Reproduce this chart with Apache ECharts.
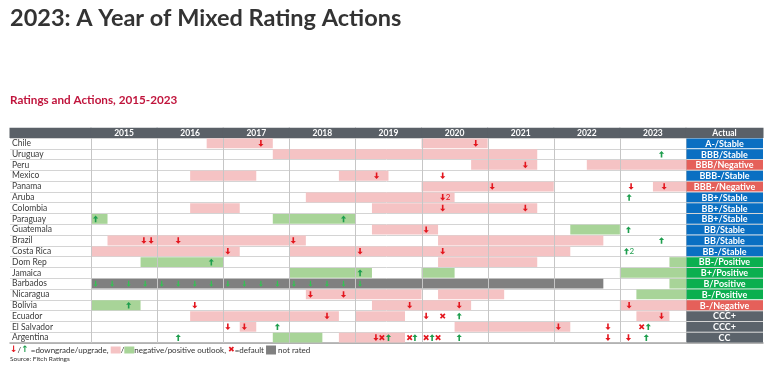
<!DOCTYPE html>
<html><head><meta charset="utf-8">
<script src="https://cdn.jsdelivr.net/npm/echarts@6/dist/echarts.min.js"></script>
<style>html,body{margin:0;padding:0;background:#fff}#c{width:769px;height:366px}</style>
</head><body><div id="c"></div>
<script>
// ---------------- DATA ----------------
const countries = ['Chile','Uruguay','Peru','Mexico','Panama','Aruba','Colombia','Paraguay','Guatemala','Brazil','Costa Rica','Dom Rep','Jamaica','Barbados','Nicaragua','Bolivia','Ecuador','El Salvador','Argentina'];
const yearLabels = ['2015','2016','2017','2018','2019','2020','2021','2022','2023'];
const yearTicks = [2015,2016,2017,2018,2019,2020,2021,2022,2023,2024];
const actualRatings = ['A-/Stable','BBB/Stable','BBB/Negative','BBB-/Stable','BBB-/Negative','BB+/Stable','BB+/Stable','BB+/Stable','BB/Stable','BB/Stable','BB-/Stable','BB-/Positive','B+/Positive','B/Positive','B-/Positive','B-/Negative','CCC+','CCC+','CC'];
const actualOutlook = ['Stable','Stable','Negative','Stable','Negative','Stable','Stable','Stable','Stable','Stable','Stable','Positive','Positive','Positive','Positive','Negative','None','None','None'];
// [country, start, end]
const negativeOutlook = [
  ['Chile',2016.75,2017.75],['Chile',2020.0,2021.0],
  ['Uruguay',2017.75,2021.75],
  ['Peru',2020.75,2021.75],['Peru',2022.5,2024],
  ['Mexico',2016.5,2017.5],['Mexico',2018.75,2019.5],
  ['Panama',2020.0,2022.0],['Panama',2023.5,2024],
  ['Aruba',2018.25,2020.5],
  ['Colombia',2016.5,2017.25],['Colombia',2019.25,2021.75],
  ['Guatemala',2019.25,2020.25],
  ['Brazil',2015.25,2018.25],['Brazil',2020.25,2022.75],
  ['Costa Rica',2015.0,2017.25],['Costa Rica',2018.0,2022.25],
  ['Dom Rep',2020.25,2021.75],
  ['Nicaragua',2018.25,2020.0],['Nicaragua',2020.25,2021.25],
  ['Bolivia',2019.25,2020.75],['Bolivia',2023.0,2024],
  ['Ecuador',2016.5,2018.75],['Ecuador',2019.0,2019.75],['Ecuador',2023.25,2023.75],
  ['El Salvador',2017.25,2017.5],['El Salvador',2020.5,2022.25],
  ['Argentina',2018.75,2019.75]
];
const positiveOutlook = [
  ['Paraguay',2015.0,2015.25],['Paraguay',2017.75,2019.0],
  ['Guatemala',2022.25,2023.0],
  ['Dom Rep',2015.75,2017.0],['Dom Rep',2023.75,2024],
  ['Jamaica',2018.0,2019.25],['Jamaica',2020.0,2020.5],['Jamaica',2023.0,2024],
  ['Barbados',2023.75,2024],
  ['Nicaragua',2023.25,2024],
  ['Bolivia',2015.0,2015.75],
  ['Argentina',2017.75,2018.5]
];
const notRated = [['Barbados',2015.0,2022.75]];
// [country, date, notches]
const downgrades = [
  ['Chile',2017.57,1],['Chile',2020.82,1],
  ['Peru',2021.57,1],
  ['Mexico',2019.32,1],['Mexico',2020.32,1],
  ['Panama',2021.07,1],['Panama',2023.17,1],['Panama',2023.67,1],
  ['Aruba',2020.32,2],
  ['Colombia',2020.32,1],['Colombia',2021.57,1],
  ['Guatemala',2020.07,1],
  ['Brazil',2015.8,1],['Brazil',2015.91,1],['Brazil',2016.32,1],['Brazil',2018.06,1],
  ['Costa Rica',2017.07,1],['Costa Rica',2019.07,1],['Costa Rica',2020.32,1],
  ['Nicaragua',2018.32,1],['Nicaragua',2018.82,1],
  ['Bolivia',2016.57,1],['Bolivia',2019.82,1],['Bolivia',2020.57,1],['Bolivia',2023.14,1],
  ['Ecuador',2018.57,1],['Ecuador',2020.07,1],['Ecuador',2023.63,1],
  ['El Salvador',2017.07,1],['El Salvador',2017.32,1],['El Salvador',2022.07,1],['El Salvador',2022.82,1],
  ['Argentina',2019.31,1],['Argentina',2022.82,1],['Argentina',2023.13,1]
];
const upgrades = [
  ['Uruguay',2023.63,1],
  ['Aruba',2023.14,1],
  ['Paraguay',2015.07,1],['Paraguay',2018.82,1],
  ['Guatemala',2023.13,1],
  ['Brazil',2023.63,1],
  ['Costa Rica',2023.1,2],
  ['Dom Rep',2016.82,1],
  ['Jamaica',2019.07,1],
  ['Bolivia',2015.57,1],
  ['Ecuador',2020.57,1],
  ['El Salvador',2017.82,1],['El Salvador',2023.43,1],
  ['Argentina',2016.32,1],['Argentina',2019.5,1],['Argentina',2019.9,1],['Argentina',2020.16,1],['Argentina',2020.57,1],['Argentina',2023.4,1]
];
const defaults = [
  ['Ecuador',2020.32],
  ['El Salvador',2023.33],
  ['Argentina',2019.4],['Argentina',2019.82],['Argentina',2020.07],['Argentina',2020.25]
];
const notRatedMarks = [
  ['Barbados',2015.07],['Barbados',2015.32],['Barbados',2015.57],['Barbados',2015.82],
  ['Barbados',2016.07],['Barbados',2016.32],['Barbados',2016.57],['Barbados',2016.82],
  ['Barbados',2017.07],['Barbados',2017.32],['Barbados',2017.57],['Barbados',2017.82],
  ['Barbados',2018.07],['Barbados',2018.32],['Barbados',2018.57],['Barbados',2018.82],
  ['Barbados',2019.07]
];

// ---------------- STYLE ----------------
const FONT = 'Lato, "Noto Sans", sans-serif';
const XMIN = 2013.775, XMAX = 2025.165;
const C = {
  neg: '#F5C3C4', pos: '#A8D498', nr: '#808080',
  red: '#E3161E', green: '#1E9E4E', nrArrow: '#33C253',
  header: '#5A6067', grid: '#d4d4d4', yearLine: '#c6c6c6'
};
const outlookColor = { Stable: '#0A6FC2', Negative: '#E5605A', Positive: '#0BAF4F', None: '#5B636B' };
const rowIdx = n => countries.indexOf(n);

const chart = echarts.init(document.getElementById('c'));

function barSeries(rows, color) {
  return {
    type: 'custom', z: 2, silent: true,
    data: rows.map(r => [rowIdx(r[0]), r[1], r[2]]),
    encode: { x: [1, 2], y: 0 },
    renderItem: (p, api) => {
      const a = api.coord([api.value(1), api.value(0)]);
      const b = api.coord([api.value(2), api.value(0)]);
      const h = api.size([0, 1])[1];
      return { type: 'rect', shape: { x: a[0], y: a[1] - h / 2 + 0.5, width: b[0] - a[0], height: h - 1 }, style: { fill: color } };
    }
  };
}

function arrowPoints(cx, cy, dir, thin) {
  const hw = thin ? 2.1 : 2.6, sw = thin ? 0.6 : 0.8, half = thin ? 3.0 : 3.3, head = thin ? 2.1 : 2.8;
  const tip = cy + dir * half, base = tip - dir * head, tail = cy - dir * half;
  return [[cx - sw, tail], [cx + sw, tail], [cx + sw, base], [cx + hw, base], [cx, tip], [cx - hw, base], [cx - sw, base]];
}

function arrowSeries(rows, dir, color, thin) {
  return {
    type: 'custom', z: 5, silent: true,
    data: rows.map(r => [rowIdx(r[0]), r[1], r[2] || 1]),
    encode: { x: 1, y: 0 },
    renderItem: (p, api) => {
      const c = api.coord([api.value(1), api.value(0)]);
      const children = [{ type: 'polygon', shape: { points: arrowPoints(c[0], c[1], dir, thin) }, style: { fill: color } }];
      if (api.value(2) > 1) {
        children.push({ type: 'text', x: c[0] + 3, y: c[1] + 0.5, style: { text: String(api.value(2)), fill: color, font: '8px ' + FONT, verticalAlign: 'middle', align: 'left' } });
      }
      return { type: 'group', children };
    }
  };
}

const headerCells = [[XMIN, 2015, '']].concat(yearLabels.map(l => [+l, +l + 1, l])).concat([[2024, XMAX, 'Actual']]);

const option = {
  animation: false,
  grid: { left: 10, right: 6, top: 138, height: 205 },
  xAxis: {
    type: 'value', min: XMIN, max: XMAX,
    axisLabel: { show: false }, axisTick: { show: false }, splitLine: { show: false },
    axisLine: { show: true, lineStyle: { color: '#a6a6a6', width: 1.5 } }
  },
  yAxis: {
    type: 'category', data: countries, inverse: true,
    axisLine: { show: false }, axisTick: { show: false },
    axisLabel: { inside: true, margin: 2, interval: 0, fontSize: 8.5, fontFamily: FONT, color: '#3a3a3a' },
    splitLine: { show: true, interval: 0, lineStyle: { color: C.grid, width: 1 } }
  },
  series: [
    barSeries(negativeOutlook, C.neg),
    barSeries(positiveOutlook, C.pos),
    barSeries(notRated, C.nr),
    // year separator lines
    {
      type: 'custom', z: 3, silent: true,
      data: yearTicks.map(v => [v]), encode: { x: 0 },
      renderItem: (p, api) => {
        const h = api.size([0, 1])[1];
        const t = api.coord([api.value(0), 0]);
        const b = api.coord([api.value(0), countries.length - 1]);
        return { type: 'line', shape: { x1: Math.round(t[0]) + 0.5, y1: t[1] - h / 2, x2: Math.round(t[0]) + 0.5, y2: b[1] + h / 2 }, style: { stroke: C.yearLine, lineWidth: 1 } };
      }
    },
    // header row
    {
      type: 'custom', z: 6, silent: true,
      data: headerCells.map(c => [c[0], c[1]]), encode: { x: [0, 1] },
      renderItem: (p, api) => {
        const h = api.size([0, 1])[1];
        const a = api.coord([api.value(0), 0]);
        const b = api.coord([api.value(1), 0]);
        const top = a[1] - 1.5 * h + 0.5, bh = h - 0.5;
        return { type: 'group', children: [
          { type: 'rect', shape: { x: a[0] - 0.5, y: top, width: b[0] - a[0] + 1, height: bh }, style: { fill: C.header } },
          { type: 'text', x: (a[0] + b[0]) / 2, y: top + bh / 2 + 0.5, style: { text: headerCells[p.dataIndex][2], fill: '#fff', font: 'bold 8.5px ' + FONT, align: 'center', verticalAlign: 'middle' } }
        ] };
      }
    },
    // actual column
    {
      type: 'custom', z: 6, silent: true,
      data: countries.map((c, i) => [i, 2024, XMAX]), encode: { x: [1, 2], y: 0 },
      renderItem: (p, api) => {
        const h = api.size([0, 1])[1];
        const a = api.coord([api.value(1), api.value(0)]);
        const b = api.coord([api.value(2), api.value(0)]);
        return { type: 'group', children: [
          { type: 'rect', shape: { x: a[0] + 0.5, y: a[1] - h / 2 + 0.5, width: b[0] - a[0] - 0.5, height: h - 1 }, style: { fill: outlookColor[actualOutlook[p.dataIndex]] } },
          { type: 'text', x: (a[0] + b[0]) / 2, y: a[1] + 0.5, style: { text: actualRatings[p.dataIndex], fill: '#fff', font: 'bold 9px ' + FONT, align: 'center', verticalAlign: 'middle' } }
        ] };
      }
    },
    arrowSeries(notRatedMarks, 1, C.nrArrow, true),
    arrowSeries(downgrades, 1, C.red, false),
    arrowSeries(upgrades, -1, C.green, false),
    // defaults
    {
      type: 'custom', z: 5, silent: true,
      data: defaults.map(r => [rowIdx(r[0]), r[1]]), encode: { x: 1, y: 0 },
      renderItem: (p, api) => {
        const c = api.coord([api.value(1), api.value(0)]);
        const s = 2.2;
        const st = { stroke: C.red, lineWidth: 1.7 };
        return { type: 'group', children: [
          { type: 'line', shape: { x1: c[0] - s, y1: c[1] - s, x2: c[0] + s, y2: c[1] + s }, style: st },
          { type: 'line', shape: { x1: c[0] - s, y1: c[1] + s, x2: c[0] + s, y2: c[1] - s }, style: st }
        ] };
      }
    }
  ],
  graphic: [
    { type: 'text', left: 10, top: 6, style: { text: '2023: A Year of Mixed Rating Actions', font: 'bold 23.5px ' + FONT, fill: '#333' } },
    { type: 'text', left: 10, top: 94, style: { text: 'Ratings and Actions, 2015-2023', font: 'bold 11.7px ' + FONT, fill: '#C0143C' } },
    { type: 'text', left: 10, top: 345.5, style: {
      text: '{dn|↓}/{up|↑} =downgrade/upgrade, {pk|}/{gr|}negative/positive outlook, {x|✖}=default {gy|} not rated',
      font: '8px ' + FONT, fill: '#333',
      rich: {
        dn: { fill: C.red, font: 'bold 9px "DejaVu Sans"' },
        up: { fill: C.green, font: 'bold 9px "DejaVu Sans"' },
        x: { fill: C.red, font: '8px "DejaVu Sans"' },
        pk: { backgroundColor: C.neg, width: 10, height: 7 },
        gr: { backgroundColor: C.pos, width: 10, height: 7 },
        gy: { backgroundColor: C.nr, width: 10, height: 9 }
      }
    } },
    { type: 'text', left: 10, top: 355.5, style: { text: 'Source: Fitch Ratings', font: '6.5px ' + FONT, fill: '#333' } }
  ]
};
chart.setOption(option);
</script></body></html>
